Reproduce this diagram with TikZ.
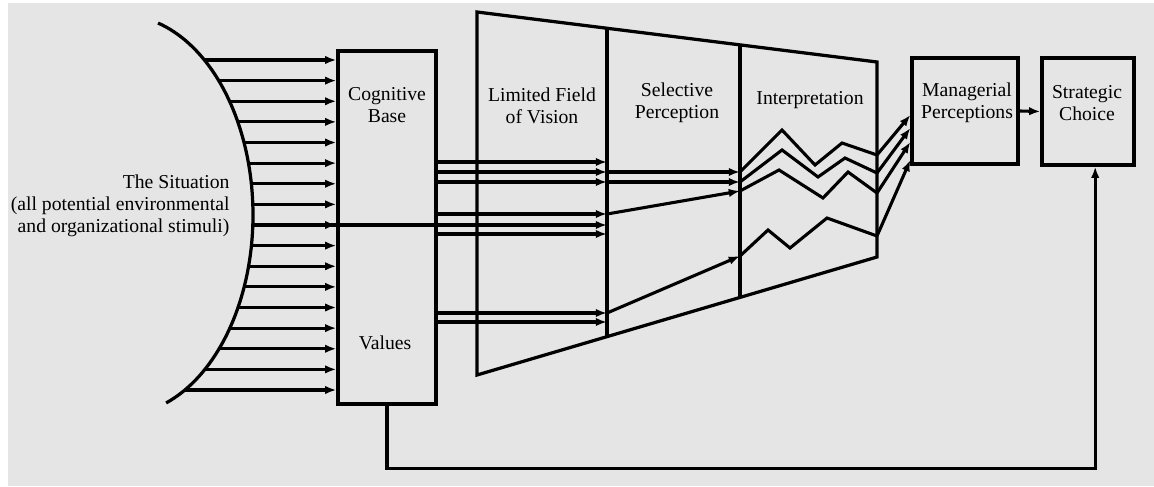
\documentclass[tikz,border=0pt]{standalone}
\usepackage{fontspec}
\setmainfont{Liberation Serif}
\usetikzlibrary{positioning, arrows.meta, calc}
\definecolor{paper}{RGB}{229,229,229}
\tikzstyle{flow} = [-{Latex[length=8pt,width=6pt]}]

\begin{document}
\begin{tikzpicture}[x=0.025cm, y=-0.025cm, line width=2.2pt]
    \tikzstyle{every node}=[font=\fontsize{14}{15.6}\selectfont]
    \tikzstyle{box} = [draw, line width=2.3pt, inner sep=0pt]
    \tikzstyle{txt} = [align=center, inner sep=0pt]
    \tikzstyle{frame} = [line width=2.3pt, line join=miter]
    \tikzstyle{zig} = [line join=miter]

    \fill[white] (0,0) rectangle (1154,486);
    \fill[paper] (8,3) rectangle (1154,486);
    \useasboundingbox (0,0) rectangle (1154,486);

    % boxes
    \node[box, minimum width=2.45cm, minimum height=8.825cm] (cog) at (387,227.5) {};
    \node[box, minimum width=2.65cm, minimum height=2.65cm] (mp) at (965,111) {};
    \node[box, minimum width=2.3cm, minimum height=2.675cm] (sc) at (1088,111.5) {};

    % funnel
    \coordinate (f1) at (477,12);
    \coordinate (f2) at (877,62);
    \coordinate (f3) at (877,257);
    \coordinate (f4) at (477,375);
    \draw[frame] (f1) -- (f2) -- (f3) -- (f4) -- cycle;
    \draw[frame] ($(f1)!0.325!(f2)$) -- ($(f4)!0.325!(f3)$);
    \draw[frame] ($(f1)!0.6575!(f2)$) -- ($(f4)!0.6575!(f3)$);
    \coordinate (lfv) at (607,0);
    \coordinate (sp) at (740,0);
    \coordinate (ip) at (877,0);

    % labels
    \node[txt] (cogtxt) at (387,105) {Cognitive\\Base};
    \node[txt] (valtxt) at (385,343) {Values};
    \node[txt] (lfvtxt) at (542,106) {Limited Field\\of Vision};
    \node[txt] (seltxt) at (677,103) {Selective\\Perception};
    \node[txt] (inttxt) at (810,100) {Interpretation};
    \node[txt] (mptxt) at (967,103) {Managerial\\Perceptions};
    \node[txt] (sctxt) at (1087,103) {Strategic\\Choice};
    \node[txt, align=right, anchor=east] (sit) at (231,206)
        {The Situation\\(all potential environmental\\and organizational stimuli)};

    % the situation
    \draw[frame] plot[domain=-73.7:70, samples=80] ({121+132*cos(\x)},{215+200*sin(\x)});
    \foreach \i in {0,...,16} {
        \pgfmathsetmacro\yy{60+20.625*\i}
        \pgfmathsetmacro\dd{(\yy-215)/200}
        \pgfmathsetmacro\xx{121+132*sqrt(1-\dd*\dd)}
        \coordinate (s\i) at (\xx,\yy);
        \draw[flow] (s\i) -- (s\i -| cog.west);
    }
    \draw[flow] (s8) -- (s8 -| lfv);

    % through the field of vision
    \foreach \yy in {162,172,182,214,234,313,322}
        \draw[flow] (cog.east |- 0,\yy) -- (lfv |- 0,\yy);
    \draw[flow] (lfv |- 0,172) -- (sp |- 0,172);
    \draw[flow] (lfv |- 0,182) -- (sp |- 0,182);
    \draw[flow] (lfv |- 0,214) -- (sp |- 0,191);
    \draw[flow] (lfv |- 0,313) -- (sp |- 0,256);

    % interpretation
    \draw[zig] (sp |- 0,172) -- (782,130) -- (815,165) -- (842,143) -- (ip |- 0,155);
    \draw[zig] (sp |- 0,182) -- (782,150) -- (818,177) -- (845,158) -- (ip |- 0,173);
    \draw[zig] (sp |- 0,191) -- (779,170) -- (823,198) -- (848,172) -- (ip |- 0,193);
    \draw[zig] (sp |- 0,256) -- (768,230) -- (790,248) -- (827,218) -- (ip |- 0,236);
    \draw[flow] (ip |- 0,155) -- (mp.west |- 0,115);
    \draw[flow] (ip |- 0,173) -- (mp.west |- 0,128);
    \draw[flow] (ip |- 0,193) -- (mp.west |- 0,142);
    \draw[flow] (ip |- 0,236) -- (mp.west |- 0,160);

    \draw[flow] (mp.east) -- (sc.west);
    \draw[flow] (cog.south) -- ++(0,63) -| ([xshift=0.18cm]sc.south);
\end{tikzpicture}
\end{document}
